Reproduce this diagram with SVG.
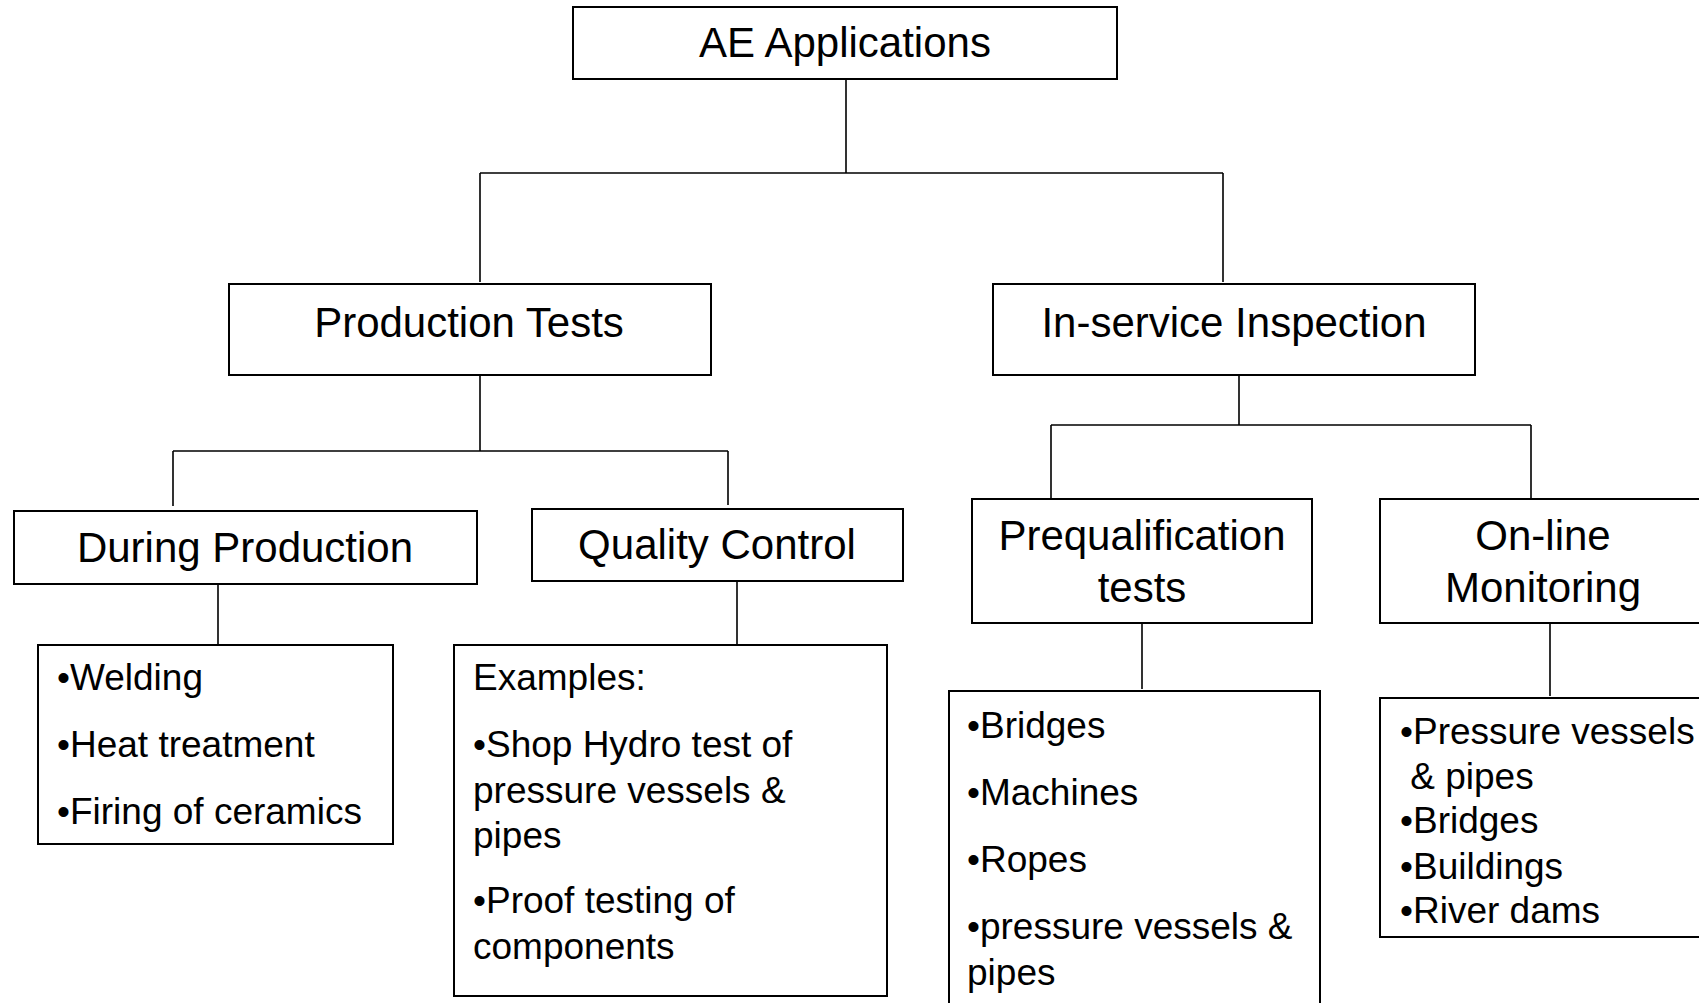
<svg xmlns="http://www.w3.org/2000/svg" width="1699" height="1003" viewBox="0 0 1699 1003">
<style>
.box{fill:#fff;stroke:#000;stroke-width:2}
.ln{fill:none;stroke:#000;stroke-width:1.6}
text{font-family:"Liberation Sans",Arial,sans-serif;fill:#000}
.lbl{font-size:42px;text-anchor:middle}
.lst{font-size:37px}
</style>
<rect width="1699" height="1003" fill="#fff"/>
<g id="connectors">
<path class="ln" d="M846 79V173M480 173H1223M480 173V282M1223 173V282"/>
<path class="ln" d="M480 375V451M173 451H728M173 451V506M728 451V505"/>
<path class="ln" d="M218 584V645M737 581V645"/>
<path class="ln" d="M1239 375V425M1051 425H1531M1051 425V498M1531 425V498"/>
<path class="ln" d="M1142 623V689M1550 623V696"/>
</g>
<g id="ae"><rect class="box" x="573" y="7" width="544" height="72"/><text class="lbl" x="845" y="57">AE Applications</text></g>
<g id="production"><rect class="box" x="229" y="284" width="482" height="91"/><text class="lbl" x="469" y="337">Production Tests</text></g>
<g id="inservice"><rect class="box" x="993" y="284" width="482" height="91"/><text class="lbl" x="1234" y="337">In-service Inspection</text></g>
<g id="during"><rect class="box" x="14" y="511" width="463" height="73"/><text class="lbl" x="245" y="562">During Production</text></g>
<g id="quality"><rect class="box" x="532" y="509" width="371" height="72"/><text class="lbl" x="717" y="559">Quality Control</text></g>
<g id="prequal"><rect class="box" x="972" y="499" width="340" height="124"/><text class="lbl" x="1142" y="550">Prequalification</text><text class="lbl" x="1142" y="602">tests</text></g>
<g id="online"><rect class="box" x="1380" y="499" width="330" height="124"/><text class="lbl" x="1543" y="550">On-line</text><text class="lbl" x="1543" y="602">Monitoring</text></g>
<g id="during-list"><rect class="box" x="38" y="645" width="355" height="199"/>
<text class="lst" x="57" y="690">•Welding</text><text class="lst" x="57" y="757">•Heat treatment</text><text class="lst" x="57" y="824">•Firing of ceramics</text></g>
<g id="quality-list"><rect class="box" x="454" y="645" width="433" height="351"/>
<text class="lst" x="473" y="690">Examples:</text><text class="lst" x="473" y="757">•Shop Hydro test of</text><text class="lst" x="473" y="803">pressure vessels &amp;</text><text class="lst" x="473" y="848">pipes</text><text class="lst" x="473" y="913">•Proof testing of</text><text class="lst" x="473" y="959">components</text></g>
<g id="prequal-list"><rect class="box" x="949" y="691" width="371" height="330"/>
<text class="lst" x="967" y="738">•Bridges</text><text class="lst" x="967" y="805">•Machines</text><text class="lst" x="967" y="872">•Ropes</text><text class="lst" x="967" y="939">•pressure vessels &amp;</text><text class="lst" x="967" y="985">pipes</text></g>
<g id="online-list"><rect class="box" x="1380" y="698" width="330" height="239"/>
<text class="lst" x="1400" y="744">•Pressure vessels</text><text class="lst" x="1400" y="789" xml:space="preserve"> &amp; pipes</text><text class="lst" x="1400" y="833">•Bridges</text><text class="lst" x="1400" y="879">•Buildings</text><text class="lst" x="1400" y="923">•River dams</text></g>
</svg>
